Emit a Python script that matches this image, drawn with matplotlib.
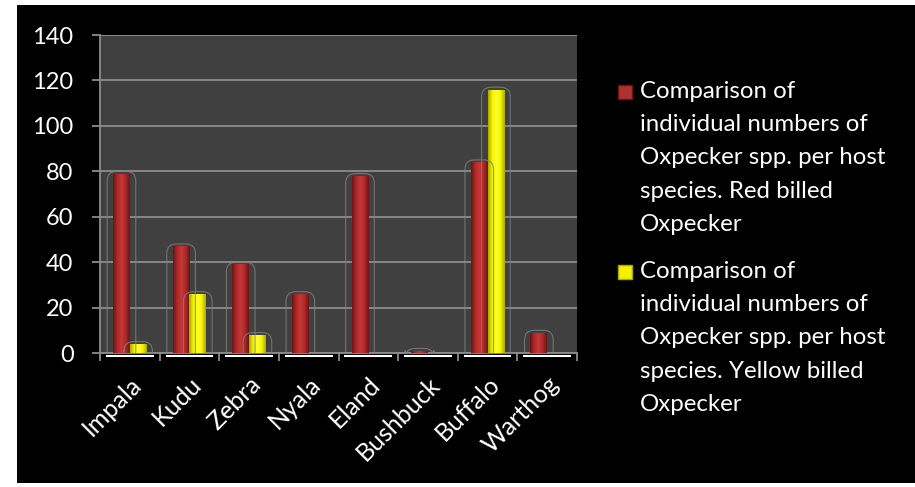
import numpy as np
import matplotlib.pyplot as plt
from matplotlib.colors import LinearSegmentedColormap
from matplotlib.patches import FancyBboxPatch, Rectangle

# data
hosts = ["Impala", "Kudu", "Zebra", "Nyala", "Eland", "Bushbuck", "Buffalo", "Warthog"]
red_billed = [79, 47, 39, 26, 78, 1, 84, 9]
yellow_billed = [4, 26, 8, 0, 0, 0, 116, 0]
series_labels = [
    "Comparison of\nindividual numbers of\nOxpecker spp. per host\nspecies. Red billed\nOxpecker",
    "Comparison of\nindividual numbers of\nOxpecker spp. per host\nspecies. Yellow billed\nOxpecker",
]
y_ticks = [0, 20, 40, 60, 80, 100, 120, 140]

FONT = "Lato"
plt.rcParams["font.family"] = [FONT, "DejaVu Sans"]

fig = plt.figure(figsize=(9.15, 4.87), dpi=100, facecolor="white")
# black chart area inside a thin white margin
fig.patches.append(Rectangle((17 / 915, 4 / 487), 898 / 915, 478 / 487,
                             transform=fig.transFigure, facecolor="black",
                             edgecolor="none", zorder=-5))

ax = fig.add_axes([100 / 915, 134 / 487, 477 / 915, 318 / 487])
ax.set_facecolor("#404040")

x = np.arange(len(hosts))
w = 0.28
ax.set_xlim(-0.5, len(hosts) - 0.5)
ax.set_ylim(0, 140)

red_cmap = LinearSegmentedColormap.from_list(
    "r", ["#6a1414", "#ae2a2a", "#c63636", "#ae2a2a", "#6a1414"])
yel_cmap = LinearSegmentedColormap.from_list(
    "y", ["#a8a800", "#f4f400", "#ffff30", "#f4f400", "#a8a800"])
grad = np.linspace(0, 1, 64).reshape(1, -1)

# aspect between y and x data units (for rounded outlines)
aspect = (140 / 318) / (8 / 477)

for offset, vals, cmap in [(-w / 2, red_billed, red_cmap),
                           (w / 2, yellow_billed, yel_cmap)]:
    bars = ax.bar(x + offset, vals, width=w, color="none", edgecolor="none", zorder=3)
    for b in bars:
        bx, bw, bh = b.get_x(), b.get_width(), b.get_height()
        if bh <= 0:
            continue
        im = ax.imshow(grad, extent=[bx, bx + bw, 0, bh], aspect="auto",
                       cmap=cmap, zorder=3)
        im.set_clip_path(b)
        pad = 0.1
        outline = FancyBboxPatch((bx - pad, -3), bw + 2 * pad, bh + 4,
                                 boxstyle="round,pad=0,rounding_size=0.16",
                                 mutation_aspect=aspect, facecolor="none",
                                 edgecolor="#808080", lw=0.8, alpha=0.8, zorder=4)
        ax.add_patch(outline)

ax.set_xlim(-0.5, len(hosts) - 0.5)
ax.set_ylim(0, 140)

# white base line under each group
for i in x:
    ax.plot([i - 0.4, i + 0.4], [-1.2, -1.2], color="white", lw=1.5,
            clip_on=False, zorder=5, solid_capstyle="butt")

ax.set_yticks(y_ticks)
ax.set_yticklabels([str(v) for v in y_ticks])
ax.yaxis.grid(True, color="#8c8c8c", lw=1.3)
ax.set_axisbelow(True)

ax.set_xticks(np.arange(-0.5, len(hosts) + 0.5, 1))
ax.set_xticklabels([])
ax.set_xticks(x, minor=True)
ax.set_xticklabels(hosts, minor=True, rotation=45, ha="right",
                   rotation_mode="anchor", color="white", fontsize=18)
ax.tick_params(axis="x", which="minor", length=0, pad=14)
ax.tick_params(axis="x", which="major", length=6, width=1.3, color="#8c8c8c")
ax.tick_params(axis="y", length=6, width=1.3, color="#8c8c8c",
               labelcolor="white", labelsize=17, pad=13)

for s in ["top", "right"]:
    ax.spines[s].set_visible(False)
for s in ["left", "bottom"]:
    ax.spines[s].set_color("#8c8c8c")
    ax.spines[s].set_linewidth(1.3)

# legend drawn by hand so the marker sits beside the first line
legend_colors = [("#b03030", "#6a1414"), ("#f2f200", "#a8a800")]
legend_tops = [81 / 487, 261 / 487]
for label, (fc, ec), top in zip(series_labels, legend_colors, legend_tops):
    fig.patches.append(Rectangle((618 / 915, 1 - (top * 487 + 18) / 487), 14 / 915, 14 / 487,
                                 transform=fig.transFigure, facecolor=fc,
                                 edgecolor=ec, lw=1, zorder=2))
    fig.text(640 / 915, 1 - top, label, color="white", fontsize=17.3,
             va="top", ha="left", linespacing=1.72)

fig.savefig("out.png", dpi=100, facecolor=fig.get_facecolor())
